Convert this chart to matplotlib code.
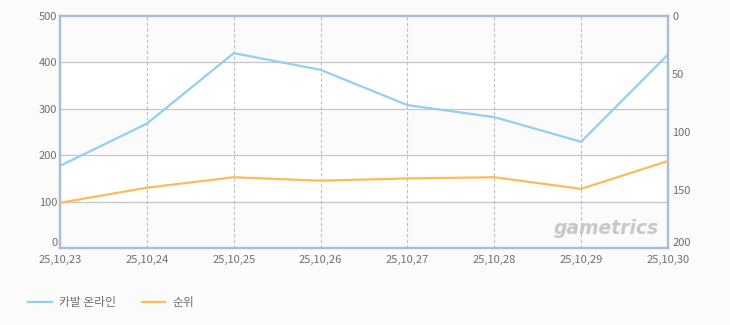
import matplotlib
matplotlib.use('Agg')
import matplotlib.pyplot as plt

plt.rcParams['font.family'] = ['Noto Sans CJK KR', 'DejaVu Sans']

# data
dates = ['25,10,23', '25,10,24', '25,10,25', '25,10,26',
         '25,10,27', '25,10,28', '25,10,29', '25,10,30']
users = [177, 268, 420, 384, 308, 282, 229, 417]
rank = [161, 148, 139, 142, 140, 139, 149, 125]
series_names = ['카발 온라인', '순위']

blue = '#92d0ef'
orange = '#fdbb5a'
txt = '#707070'

fig = plt.figure(figsize=(7.3, 3.25), dpi=100)
fig.patch.set_facecolor('#fbfbfb')
ax = fig.add_axes([60/730, 1-248/325, 608/730, 232/325])
ax.set_facecolor('#fbfbfb')

x = list(range(len(dates)))

# alternating bands
for i in range(5):
    if i % 2 == 1:
        ax.axhspan(i*100, (i+1)*100, color='white', zorder=0)

ax.set_xlim(0, len(dates)-1)
ax.set_ylim(0, 500)
ax.set_yticks(range(0, 501, 100))
ax.set_xticks(x)
ax.set_xticklabels(dates)

for y in range(100, 500, 100):
    ax.axhline(y, color='#c6c6c6', lw=0.9, zorder=1)
for xi in x[1:-1]:
    ax.axvline(xi, color='#c0c0c0', lw=0.8, ls=(0, (3, 2)), zorder=1)

l1, = ax.plot(x, users, color=blue, lw=1.6, zorder=3)

ax2 = ax.twinx()
ax2.set_ylim(200, 0)
ax2.set_yticks(range(0, 201, 50))
l2, = ax2.plot(x, rank, color=orange, lw=1.6, zorder=3)

for a in (ax, ax2):
    for s in a.spines.values():
        s.set_color('#aabdd4')
        s.set_linewidth(1.6)
    a.tick_params(length=0, labelsize=8, colors=txt, pad=1)

ax.tick_params(axis='x', pad=5)
ax.tick_params(axis='y', pad=2)
ax2.tick_params(axis='y', pad=3)
# keep the corner labels clear of the date labels
ax.get_yticklabels()[0].set_va('bottom')
ax2.get_yticklabels()[-1].set_va('bottom')

# watermark
ax.text(0.985, 0.045, 'gametrics', transform=ax.transAxes, ha='right', va='bottom',
        fontsize=13.5, fontweight='bold', style='italic', color='#c8c8c8',
        family='DejaVu Sans', zorder=2)

fig.legend([l1, l2], series_names, loc='lower left', bbox_to_anchor=(28/730, 16/325),
           ncol=2, frameon=False, fontsize=8.5, labelcolor=txt, handlelength=2.0,
           handletextpad=0.6, columnspacing=2.2, borderaxespad=0, borderpad=0)

fig.savefig('out.png', dpi=100, facecolor=fig.get_facecolor())
